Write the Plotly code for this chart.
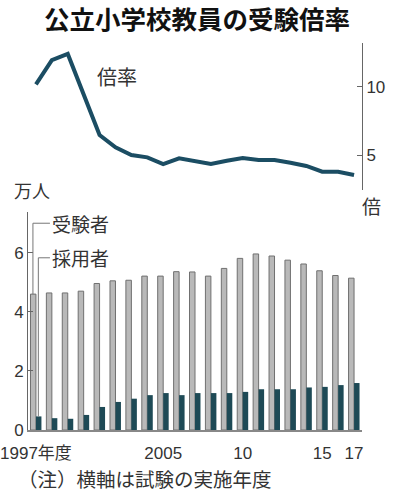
import plotly.graph_objects as go

years = list(range(1997, 2018))
applicants = [4.60, 4.64, 4.64, 4.70, 4.96, 5.05, 5.07, 5.21, 5.21, 5.36, 5.35,
              5.21, 5.47, 5.81, 5.96, 5.89, 5.75, 5.62, 5.39, 5.23, 5.14]
hires = [0.46, 0.40, 0.38, 0.51, 0.78, 0.95, 1.06, 1.18, 1.25, 1.18, 1.25,
         1.25, 1.25, 1.29, 1.38, 1.38, 1.38, 1.44, 1.46, 1.52, 1.59]
ratio = [10.17, 11.95, 12.4, 9.4, 6.46, 5.56, 5.0, 4.83, 4.34, 4.76, 4.58,
         4.34, 4.58, 4.78, 4.63, 4.63, 4.44, 4.2, 3.78, 3.78, 3.54]
x_tickvals = [1997, 2005, 2010, 2015, 2017]
x_ticktext = ["1997年度", "2005", "10", "15", "17"]

W, H = 397, 500
FONT = "Liberation Sans, Noto Sans CJK JP, sans-serif"
CJK = "Noto Sans CJK JP, sans-serif"
GRAYTXT = "#333333"

def px(x):
    return x / W

def py(y):
    return 1 - y / H

fig = go.Figure()

fig.add_trace(go.Scatter(
    x=years, y=ratio, mode="lines", xaxis="x", yaxis="y",
    line=dict(color="#1b4d63", width=4), showlegend=False, hoverinfo="skip"))

fig.add_trace(go.Bar(
    x=years, y=applicants, xaxis="x2", yaxis="y2", name="受験者",
    marker=dict(color="#b9b9b9", line=dict(color="#707070", width=1)),
    showlegend=False, hoverinfo="skip"))
fig.add_trace(go.Bar(
    x=years, y=hires, xaxis="x2", yaxis="y2", name="採用者",
    marker=dict(color="#1e4a56", line=dict(width=0)),
    showlegend=False, hoverinfo="skip"))

xdom = [px(28), px(362)]
xr = [years[0] - 0.5, years[-1] + 0.5]

fig.update_layout(
    width=W, height=H, autosize=False,
    margin=dict(l=0, r=0, t=0, b=0, autoexpand=False),
    paper_bgcolor="white", plot_bgcolor="white",
    barmode="group", bargap=0.31, bargroupgap=0,
    font=dict(family=FONT, color=GRAYTXT, size=17),
    xaxis=dict(domain=xdom, range=xr, anchor="y", showticklabels=False,
               showline=False, showgrid=False, zeroline=False, ticks="",
               automargin=False),
    yaxis=dict(domain=[py(190), py(43)], range=[2.44, 13.2], anchor="x",
               side="right", showline=True, linecolor="#666666", linewidth=1,
               ticks="inside", ticklen=5, tickcolor="#666666",
               tickvals=[5, 10], showgrid=False, zeroline=False,
               automargin=False,
               tickfont=dict(size=17, family=FONT, color=GRAYTXT)),
    xaxis2=dict(domain=xdom, range=xr, anchor="y2", showline=True,
                linecolor="#888888", linewidth=1.5, showgrid=False,
                zeroline=False, ticks="outside", ticklen=7,
                tickcolor="rgba(0,0,0,0)", tickvals=x_tickvals,
                ticktext=x_ticktext, automargin=False,
                tickfont=dict(size=17, family=FONT, color=GRAYTXT)),
    yaxis2=dict(domain=[py(430), py(212)], range=[0, 7.38], anchor="x2",
                showline=True, linecolor="#666666", linewidth=1,
                ticks="inside", ticklen=5, tickcolor="#666666",
                tickvals=[0, 2, 4, 6], showgrid=False, zeroline=False,
                automargin=False,
                tickfont=dict(size=17, family=FONT, color=GRAYTXT)),
)

# callout lines for series labels
gx = years[0] - 0.19
dx = years[0] + 0.15
lx = years[0] + 0.88
fig.add_shape(type="line", xref="x2", yref="y2", x0=gx, x1=gx,
              y0=applicants[0], y1=7.0, line=dict(color="#777777", width=1))
fig.add_shape(type="line", xref="x2", yref="y2", x0=gx, x1=lx,
              y0=7.0, y1=7.0, line=dict(color="#777777", width=1))
fig.add_shape(type="line", xref="x2", yref="y2", x0=dx, x1=dx,
              y0=hires[0], y1=5.83, line=dict(color="#777777", width=1))
fig.add_shape(type="line", xref="x2", yref="y2", x0=dx, x1=lx,
              y0=5.83, y1=5.83, line=dict(color="#777777", width=1))

ann = [
    dict(text="受験者", x=lx, y=7.0, xref="x2", yref="y2", xanchor="left",
         yanchor="middle", font=dict(size=19, family=CJK, color=GRAYTXT)),
    dict(text="採用者", x=lx, y=5.83, xref="x2", yref="y2", xanchor="left",
         yanchor="middle", font=dict(size=19, family=CJK, color=GRAYTXT)),
    dict(text="<b>公立小学校教員の受験倍率</b>", x=px(197), y=py(17),
         xref="paper", yref="paper", xanchor="center", yanchor="middle",
         font=dict(size=25.5, family=CJK, color="#111111")),
    dict(text="倍率", x=px(95), y=py(76), xref="paper", yref="paper",
         xanchor="left", yanchor="middle",
         font=dict(size=20, family=CJK, color=GRAYTXT)),
    dict(text="万人", x=px(12), y=py(190), xref="paper", yref="paper",
         xanchor="left", yanchor="middle",
         font=dict(size=18, family=CJK, color=GRAYTXT)),
    dict(text="倍", x=px(360), y=py(206), xref="paper", yref="paper",
         xanchor="left", yanchor="middle",
         font=dict(size=19, family=CJK, color=GRAYTXT)),
    dict(text="（注）横軸は試験の実施年度", x=px(16), y=py(478),
         xref="paper", yref="paper", xanchor="left", yanchor="middle",
         font=dict(size=19.5, family=CJK, color=GRAYTXT)),
]
for a in ann:
    a["showarrow"] = False
    fig.add_annotation(**a)

fig.write_html("out.html", config={"displayModeBar": False},
               post_script="document.body.style.margin='0';")
